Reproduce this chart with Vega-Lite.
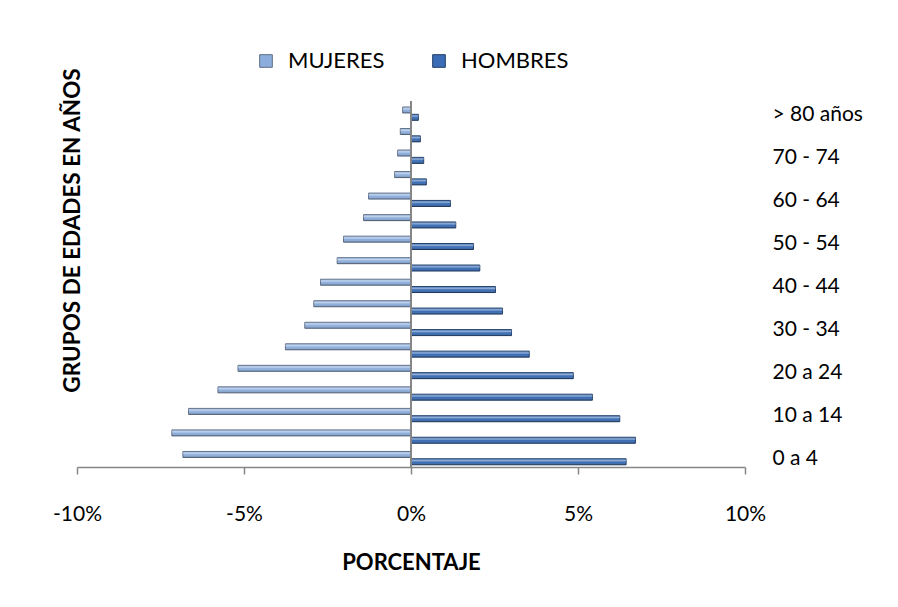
{
  "$schema": "https://vega.github.io/schema/vega-lite/v6.json",
  "width": 668,
  "height": 366,
  "autosize": {"type": "none"},
  "padding": {"left": 77, "top": 101, "right": 153, "bottom": 140},
  "background": "white",
  "config": {
    "font": "Lato",
    "view": {"stroke": null},
    "axisX": {
      "domainColor": "#868686",
      "domainWidth": 1.5,
      "tickColor": "#868686",
      "tickWidth": 1.5,
      "tickSize": 7,
      "grid": false,
      "labelFontSize": 21,
      "labelColor": "#000000",
      "labelPadding": 29,
      "labelFont": "Lato",
      "titleFontSize": 22,
      "titleFontWeight": "bold",
      "titleColor": "#000000",
      "titleBaseline": "alphabetic",
      "titleY": 102
    }
  },
  "data": {
    "values": [
      {"g": "0 a 4", "s": "MUJERES", "v": -6.83}, {"g": "0 a 4", "s": "HOMBRES", "v": 6.44},
      {"g": "5 a 9", "s": "MUJERES", "v": -7.16}, {"g": "5 a 9", "s": "HOMBRES", "v": 6.72},
      {"g": "10 a 14", "s": "MUJERES", "v": -6.66}, {"g": "10 a 14", "s": "HOMBRES", "v": 6.25},
      {"g": "15 a 19", "s": "MUJERES", "v": -5.78}, {"g": "15 a 19", "s": "HOMBRES", "v": 5.43},
      {"g": "20 a 24", "s": "MUJERES", "v": -5.18}, {"g": "20 a 24", "s": "HOMBRES", "v": 4.86},
      {"g": "25 - 29", "s": "MUJERES", "v": -3.76}, {"g": "25 - 29", "s": "HOMBRES", "v": 3.54},
      {"g": "30 - 34", "s": "MUJERES", "v": -3.18}, {"g": "30 - 34", "s": "HOMBRES", "v": 3.01},
      {"g": "35 - 39", "s": "MUJERES", "v": -2.91}, {"g": "35 - 39", "s": "HOMBRES", "v": 2.74},
      {"g": "40 - 44", "s": "MUJERES", "v": -2.71}, {"g": "40 - 44", "s": "HOMBRES", "v": 2.53},
      {"g": "45 - 49", "s": "MUJERES", "v": -2.21}, {"g": "45 - 49", "s": "HOMBRES", "v": 2.06},
      {"g": "50 - 54", "s": "MUJERES", "v": -2.02}, {"g": "50 - 54", "s": "HOMBRES", "v": 1.87},
      {"g": "55 - 59", "s": "MUJERES", "v": -1.42}, {"g": "55 - 59", "s": "HOMBRES", "v": 1.34},
      {"g": "60 - 64", "s": "MUJERES", "v": -1.27}, {"g": "60 - 64", "s": "HOMBRES", "v": 1.18},
      {"g": "65 - 69", "s": "MUJERES", "v": -0.49}, {"g": "65 - 69", "s": "HOMBRES", "v": 0.46},
      {"g": "70 - 74", "s": "MUJERES", "v": -0.40}, {"g": "70 - 74", "s": "HOMBRES", "v": 0.38},
      {"g": "75 - 79", "s": "MUJERES", "v": -0.32}, {"g": "75 - 79", "s": "HOMBRES", "v": 0.28},
      {"g": "> 80 años", "s": "MUJERES", "v": -0.25}, {"g": "> 80 años", "s": "HOMBRES", "v": 0.22}
    ]
  },
  "resolve": {"axis": {"y": "independent"}},
  "layer": [
    {
      "mark": {"type": "bar", "strokeWidth": 1},
      "encoding": {
        "x": {
          "field": "v", "type": "quantitative", "title": "PORCENTAJE",
          "scale": {"domain": [-10, 10], "nice": false, "zero": false},
          "axis": {"values": [-10, -5, 0, 5, 10], "labelExpr": "datum.value + '%'", "labelFlush": false}
        },
        "y": {
          "field": "g", "type": "nominal",
          "sort": ["> 80 años", "75 - 79", "70 - 74", "65 - 69", "60 - 64", "55 - 59", "50 - 54", "45 - 49", "40 - 44", "35 - 39", "30 - 34", "25 - 29", "20 a 24", "15 a 19", "10 a 14", "5 a 9", "0 a 4"],
          "scale": {"paddingInner": 0, "paddingOuter": 0},
          "axis": {
            "orient": "right", "title": null, "domain": false, "ticks": false, "tickSize": 0,
            "values": ["0 a 4", "10 a 14", "20 a 24", "30 - 34", "40 - 44", "50 - 54", "60 - 64", "70 - 74", "> 80 años"],
            "labelFontSize": 21, "labelColor": "#000000", "labelPadding": 27, "labelOffset": 3, "labelAlign": "left"
          }
        },
        "yOffset": {
          "field": "s", "type": "nominal", "sort": ["MUJERES", "HOMBRES"],
          "scale": {"paddingInner": 0.18, "paddingOuter": 0.56, "align": 0.73}
        },
        "color": {
          "field": "s", "type": "nominal", "sort": ["MUJERES", "HOMBRES"],
          "scale": {"domain": ["MUJERES", "HOMBRES"], "range": ["#8DAEDC", "#3A6DB5"]},
          "legend": {
            "orient": "none", "legendX": 178, "legendY": -51, "direction": "horizontal", "title": null,
            "symbolType": "square", "symbolSize": 160, "labelFontSize": 22, "labelColor": "#000000",
            "labelOffset": 11, "columnPadding": 43, "padding": 0, "symbolStrokeWidth": 1
          }
        },
        "stroke": {
          "field": "s", "type": "nominal", "sort": ["MUJERES", "HOMBRES"],
          "scale": {"domain": ["MUJERES", "HOMBRES"], "range": ["#5E6E86", "#203E68"]},
          "legend": null
        }
      }
    },
    {
      "mark": {
        "type": "bar",
        "fill": {
          "gradient": "linear", "x1": 0, "y1": 0, "x2": 0, "y2": 1,
          "stops": [
            {"offset": 0, "color": "rgba(255,255,255,0.05)"},
            {"offset": 0.3, "color": "rgba(255,255,255,0.45)"},
            {"offset": 0.55, "color": "rgba(255,255,255,0.0)"},
            {"offset": 1, "color": "rgba(0,0,0,0.25)"}
          ]
        },
        "strokeWidth": 0
      },
      "encoding": {
        "x": {
          "field": "v", "type": "quantitative", "title": "PORCENTAJE",
          "scale": {"domain": [-10, 10], "nice": false, "zero": false},
          "axis": {"values": [-10, -5, 0, 5, 10], "labelExpr": "datum.value + '%'", "labelFlush": false}
        },
        "y": {
          "field": "g", "type": "nominal",
          "sort": ["> 80 años", "75 - 79", "70 - 74", "65 - 69", "60 - 64", "55 - 59", "50 - 54", "45 - 49", "40 - 44", "35 - 39", "30 - 34", "25 - 29", "20 a 24", "15 a 19", "10 a 14", "5 a 9", "0 a 4"],
          "scale": {"paddingInner": 0, "paddingOuter": 0},
          "axis": {
            "orient": "left", "title": "GRUPOS DE EDADES EN AÑOS", "domain": false, "ticks": false, "labels": false,
            "titleFontSize": 22.5, "titleFontWeight": "bold", "titleColor": "#000000",
            "titleAngle": 270, "titleAlign": "center", "titleBaseline": "middle", "titleX": -5, "titleY": 129
          }
        },
        "yOffset": {
          "field": "s", "type": "nominal", "sort": ["MUJERES", "HOMBRES"],
          "scale": {"paddingInner": 0.18, "paddingOuter": 0.56, "align": 0.73}
        }
      }
    },
    {
      "mark": {"type": "rule", "color": "#868686", "strokeWidth": 1.5},
      "encoding": {
        "x": {
          "datum": 0, "type": "quantitative", "title": "PORCENTAJE",
          "scale": {"domain": [-10, 10], "nice": false, "zero": false},
          "axis": {"values": [-10, -5, 0, 5, 10], "labelExpr": "datum.value + '%'", "labelFlush": false}
        }
      }
    }
  ]
}
